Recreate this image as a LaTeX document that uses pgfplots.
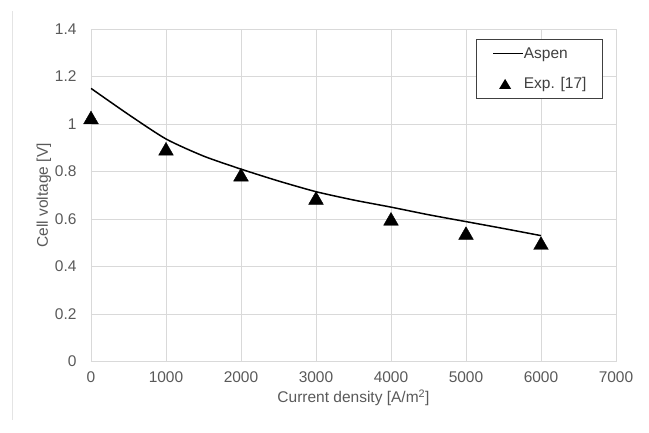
\documentclass[border=0pt]{standalone}
\usepackage{pgfplots}
\pgfplotsset{compat=1.18}
\usepackage{fontspec}
\setmainfont{Liberation Sans}
\definecolor{txt}{HTML}{595959}
\definecolor{legtxt}{HTML}{404040}
\definecolor{grd}{HTML}{D9D9D9}
\pgfplotsset{
  lineleg/.style={legend image code/.code={\draw[##1] (0pt,0pt) -- (30pt,0pt);}},
  triLeg/.style={legend image code/.code={\path[draw=none] (0pt,0pt) -- (30pt,0pt);
    \fill[black, draw=none] (6pt,-5pt) -- (18pt,-5pt) -- (12pt,5pt) -- cycle;}},
}
\begin{document}
\begin{tikzpicture}
\path[use as bounding box] (-91pt,-70.5pt) rectangle (558pt,361.5pt);
\draw[grd!70, line width=0.8pt] (-79pt,-58pt) -- (-79pt,350pt);
\begin{axis}[
  at={(0pt,0pt)}, anchor=origin,
  scale only axis, width=525pt, height=332.5pt,
  xmin=0, xmax=7000, ymin=0, ymax=1.4,
  xtick={0,1000,...,7000}, ytick={0,0.2,...,1.4},
  grid=major, grid style={grd, line width=0.8pt},
  axis line style={grd, line width=0.8pt},
  major tick length=0pt,
  tick label style={font=\fontsize{15.5}{18}\selectfont, text=txt},
  /pgf/number format/assume math mode=true,
  /pgf/number format/1000 sep={},
  xticklabel style={yshift=-7pt},
  yticklabel style={xshift=-11pt},
  y tick label style={/pgf/number format/.cd, fixed, precision=1},
  xlabel={Current density [A/m\textsuperscript{2}]},
  ylabel={Cell voltage [V]},
  label style={font=\fontsize{15.5}{18}\selectfont, text=txt},
  xlabel style={yshift=0pt},
  ylabel style={yshift=-3pt},
  legend style={at={(0.975,0.97)}, anchor=north east, draw=black!75, line width=0.8pt,
    font=\fontsize{15.5}{18}\selectfont, text=legtxt, inner xsep=16pt, inner ysep=8pt,
    nodes={inner sep=0pt}, row sep=18pt, cells={anchor=west}},
]
\addplot[black, line width=1.5pt, smooth, tension=0.4, lineleg] coordinates {
 (0,1.150) (500,1.040) (1000,0.937) (1500,0.865) (2000,0.810) (2500,0.760)
 (3000,0.715) (3500,0.680) (4000,0.650) (4500,0.618) (5000,0.589) (5500,0.560) (6000,0.530)};
\addlegendentry{Aspen}
\addplot[only marks, mark=triangle*, mark size=8.5pt, black, mark options={yshift=-2pt}, triLeg] coordinates {
 (0,1.027) (1000,0.895) (2000,0.786) (3000,0.688) (4000,0.600) (5000,0.540) (6000,0.498)};
\addlegendentry{Exp. [17]}
\end{axis}
\end{tikzpicture}
\end{document}
